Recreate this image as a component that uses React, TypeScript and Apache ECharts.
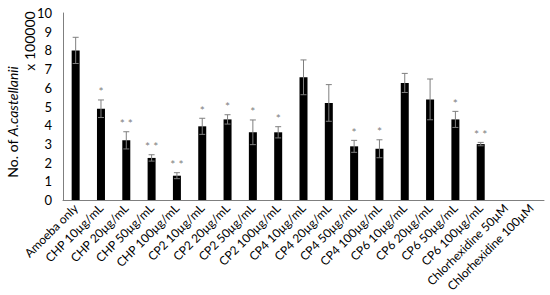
import React, { useEffect, useRef } from "react";
import * as echarts from "echarts";

const categories = [
  "Amoeba only",
  "CHP 10µg/mL",
  "CHP 20µg/mL",
  "CHP 50µg/mL",
  "CHP 100µg/mL",
  "CP2 10µg/mL",
  "CP2 20µg/mL",
  "CP2 50µg/mL",
  "CP2 100µg/mL",
  "CP4 10µg/mL",
  "CP4 20µg/mL",
  "CP4 50µg/mL",
  "CP4 100µg/mL",
  "CP6 10µg/mL",
  "CP6 20µg/mL",
  "CP6 50µg/mL",
  "CP6 100µg/mL",
  "Chlorhexidine 50µM",
  "Chlorhexidine 100µM",
];

const values = [8.0, 4.88, 3.19, 2.25, 1.3, 3.94, 4.31, 3.62, 3.62, 6.56, 5.19, 2.87, 2.74, 6.26, 5.38, 4.31, 2.99, 0, 0];
const errors = [0.7, 0.47, 0.46, 0.17, 0.16, 0.43, 0.25, 0.66, 0.3, 0.93, 0.98, 0.32, 0.48, 0.51, 1.09, 0.43, 0.09, 0, 0];
const significance = ["", "*", "* *", "* *", "* *", "*", "*", "*", "*", "", "", "*", "*", "", "", "*", "* *", "", ""];
const yTicks = [0, 1, 2, 3, 4, 5, 6, 7, 8, 9, 10];

const FONT = "Lato, 'Open Sans', sans-serif";

export default function App() {
  const ref = useRef<HTMLDivElement>(null);
  useEffect(() => {
    if (!ref.current) return;
    const chart = echarts.init(ref.current, null, { renderer: "svg" });
    const errData = values.map((v, i) => [i, v, errors[i]]);
    chart.setOption({
      animation: false,
      grid: { left: 63, top: 13, right: 6, bottom: 95, containLabel: false },
      xAxis: {
        type: "category",
        data: categories,
        axisLine: { lineStyle: { color: "#7f7f7f", width: 1 } },
        axisTick: { show: false },
        axisLabel: {
          interval: 0,
          rotate: 45,
          fontSize: 12,
          fontFamily: FONT,
          color: "#000",
          margin: 6,
        },
      },
      yAxis: {
        type: "value",
        min: 0,
        max: 10,
        interval: 1,
        splitLine: { show: false },
        axisLine: { show: true, lineStyle: { color: "#7f7f7f", width: 1 } },
        axisTick: { show: false },
        axisLabel: {
          fontSize: 13,
          fontFamily: FONT,
          color: "#000",
          margin: 11,
          formatter: (v: number) => (yTicks.includes(v) ? String(v) : ""),
        },
      },
      graphic: [
        {
          type: "text",
          x: 5,
          y: 122,
          rotation: Math.PI / 2,
          style: {
            text: "{n|No. of }{i|A.castellanii}",
            align: "center",
            verticalAlign: "top",
            rich: {
              n: { fontSize: 14, fontFamily: FONT, fill: "#000" },
              i: { fontSize: 14, fontFamily: FONT, fontStyle: "italic", fill: "#000" },
            },
          },
        },
        {
          type: "text",
          x: 22,
          y: 41,
          rotation: Math.PI / 2,
          style: {
            text: "x 100000",
            align: "center",
            verticalAlign: "top",
            fontSize: 14,
            fontFamily: FONT,
            fill: "#000",
          },
        },
      ],
      series: [
        {
          type: "bar",
          data: values,
          barWidth: 8,
          itemStyle: { color: "#000" },
          z: 1,
        },
        {
          type: "custom",
          data: errData,
          z: 3,
          renderItem: (params: any, api: any) => {
            const i = api.value(0);
            const v = api.value(1);
            const e = api.value(2);
            const sig = significance[params.dataIndex];
            const children: any[] = [];
            if (e > 0) {
              const top = api.coord([i, v + e]);
              const bot = api.coord([i, v - e]);
              const x = top[0];
              const style = { stroke: "#7f7f7f", lineWidth: 1 };
              children.push({ type: "line", shape: { x1: x, y1: top[1], x2: x, y2: bot[1] }, style });
              children.push({ type: "line", shape: { x1: x - 3, y1: top[1], x2: x + 3, y2: top[1] }, style });
              children.push({ type: "line", shape: { x1: x - 3, y1: bot[1], x2: x + 3, y2: bot[1] }, style });
              if (sig) {
                children.push({
                  type: "text",
                  style: {
                    text: sig,
                    x: x,
                    y: top[1] - 2,
                    align: "center",
                    verticalAlign: "bottom",
                    fontSize: 12,
                    fontFamily: FONT,
                    fill: "#7f7f7f",
                  },
                });
              }
            }
            return { type: "group", children };
          },
        },
      ],
    });
    return () => chart.dispose();
  }, []);
  return (
    <div
      ref={ref}
      style={{ position: "fixed", left: 0, top: 0, width: 550, height: 295, background: "#fff" }}
    />
  );
}
